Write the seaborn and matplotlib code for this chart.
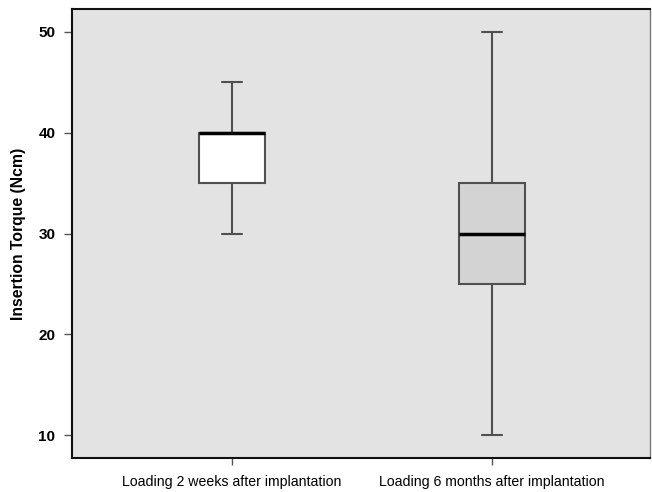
import numpy as np
import pandas as pd
import matplotlib
matplotlib.use("Agg")
import matplotlib.pyplot as plt
import seaborn as sns

categories = ["Loading 2 weeks after implantation", "Loading 6 months after implantation"]
# values (min, Q1, median, Q3, max reproduced by these samples)
group1_values = [30, 35, 35, 40, 40, 40, 40, 45]
group2_values = [10, 25, 25, 30, 30, 35, 35, 50]
box_colors = ["#ffffff", "#d3d3d3"]
y_ticks = [10, 20, 30, 40, 50]

df = pd.DataFrame({
    "group": [categories[0]] * len(group1_values) + [categories[1]] * len(group2_values),
    "torque": group1_values + group2_values,
})

sns.set_style("white")
plt.rcParams["font.family"] = ["Liberation Sans", "DejaVu Sans"]
plt.rcParams["text.color"] = "black"
plt.rcParams["axes.labelcolor"] = "black"
plt.rcParams["xtick.color"] = "black"
plt.rcParams["ytick.color"] = "black"

fig = plt.figure(figsize=(6.52, 4.92), dpi=100)
ax = fig.add_axes([0.1104, 0.069, 0.997 - 0.1104, 0.9817 - 0.069])
ax.set_facecolor("#e3e3e3")

sns.boxplot(data=df, x="group", y="torque", hue="group", order=categories,
            hue_order=categories, palette=box_colors, legend=False, ax=ax,
            width=0.254, whis=(0, 100), linecolor="#505050", linewidth=1.5,
            medianprops=dict(color="black", linewidth=2.5), dodge=False)

# narrower whisker caps, as in the reference
extremes = {min(group1_values), max(group1_values), min(group2_values), max(group2_values)}
for line in ax.lines:
    xd = np.asarray(line.get_xdata(), dtype=float)
    yd = np.asarray(line.get_ydata(), dtype=float)
    if len(xd) == 2 and yd[0] == yd[1] and yd[0] in extremes and line.get_color() != "black":
        c = xd.mean()
        line.set_xdata([c - 0.038, c + 0.038])

ax.set_xlim(-0.615, 1.608)
ax.set_ylim(7.72, 52.28)
ax.set_yticks(y_ticks)
ax.set_yticklabels([str(t) for t in y_ticks], fontsize=11, fontweight="bold")
ax.set_xticks([0, 1])
ax.set_xticklabels(categories, fontsize=10.2)
ax.set_xlabel("")
ax.set_ylabel("Insertion Torque (Ncm)", fontsize=11.3, fontweight="bold", labelpad=9)
ax.tick_params(axis="y", which="major", direction="out", length=6, width=1,
               color="#555555", left=True, pad=6)
ax.tick_params(axis="x", which="major", direction="out", length=5, width=1,
               color="#555555", bottom=True, pad=7)
for side in ["top", "left", "bottom"]:
    ax.spines[side].set_color("#111111")
    ax.spines[side].set_linewidth(1.5)
ax.spines["right"].set_color("#777777")
ax.spines["right"].set_linewidth(1.0)

fig.savefig("out.png", dpi=100, facecolor="white")
